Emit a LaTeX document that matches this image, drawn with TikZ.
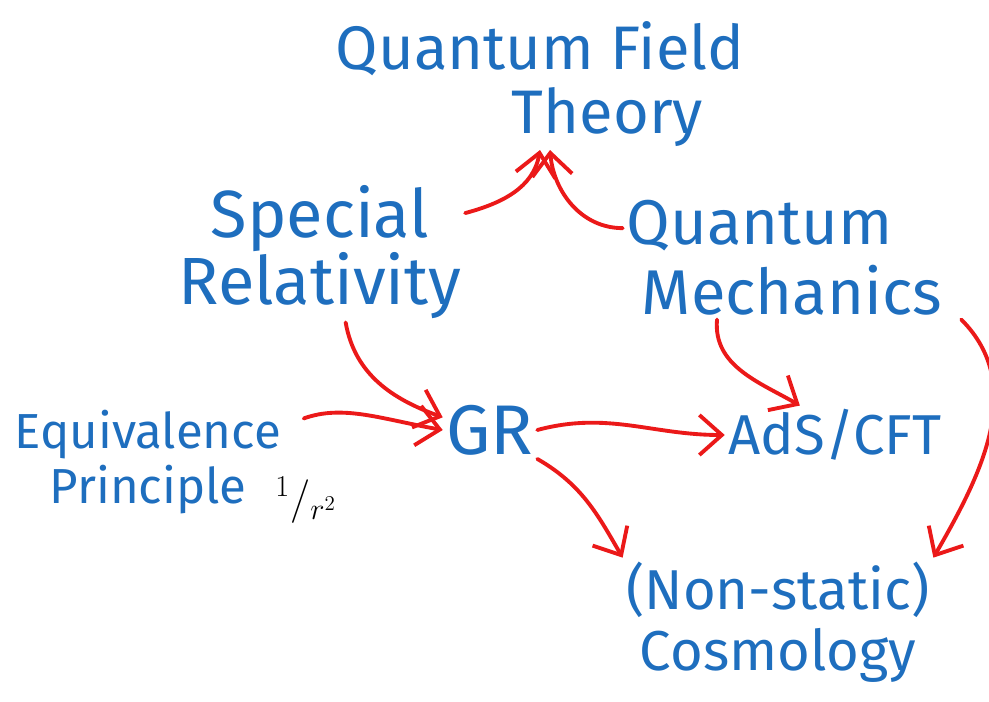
\documentclass[tikz,border=0pt]{standalone}
\usepackage{fontspec}
\setmainfont{Fira Sans}
\usetikzlibrary{arrows.meta}
\definecolor{penblue}{RGB}{30,110,190}
\definecolor{penred}{RGB}{235,25,25}
\tikzset{
  topic/.style={text=penblue, inner sep=2pt, align=center},
  link/.style={draw=penred, line width=2.2pt, line cap=round,
    -{Straight Barb[length=4.5mm,width=8mm]}},
}
\begin{document}
\begin{tikzpicture}[x=0.02cm,y=-0.02cm]
  \useasboundingbox (0,0) rectangle (989,702);
  \node[topic,font=\fontsize{35}{36}\selectfont] (qft) at (540,84) {Quantum Field\\\hspace*{2.7cm}Theory};
  \node[topic,font=\fontsize{38}{38}\selectfont] (sr) at (320,252) {Special\\Relativity};
  \node[topic,font=\fontsize{36}{40}\selectfont] (qm) at (792,258) {Quantum\hspace*{1.3cm}\\Mechanics};
  \node[topic,font=\fontsize{28}{31}\selectfont] (ep) at (148,462) {Equivalence\\Principle};
  \node[font=\fontsize{24}{24}\selectfont,inner sep=0pt] (inv) at (306,500) {$^{1}/_{r^{2}}$};
  \node[topic,font=\fontsize{40}{40}\selectfont] (gr) at (490,430) {GR};
  \node[topic,font=\fontsize{32}{32}\selectfont] (ads) at (835,435) {AdS/CFT};
  \node[topic,font=\fontsize{32}{35}\selectfont] (cos) at (778,622) {(Non-static)\\Cosmology};
  \draw[link] (sr.15) to[out=15,in=-100] (qft.south);
  \draw[link] (qm.170) to[out=180,in=-85] ([xshift=0.2cm]qft.south);
  \draw[link] (sr.-70) to[out=-80,in=160] (gr.165);
  \draw[link,shorten <=0.4cm] (ep.15) to[out=20,in=170] (gr.west);
  \draw[link] (gr.east) to[out=15,in=180] (ads.west);
  \draw[link] (gr.south east) to[out=-30,in=120] (cos.north west);
  \draw[link] ([xshift=-1.5cm]qm.south) to[out=-95,in=150] (ads.140);
  \draw[link] (qm.south east) to[out=-45,in=60] (cos.north east);
\end{tikzpicture}
\end{document}
